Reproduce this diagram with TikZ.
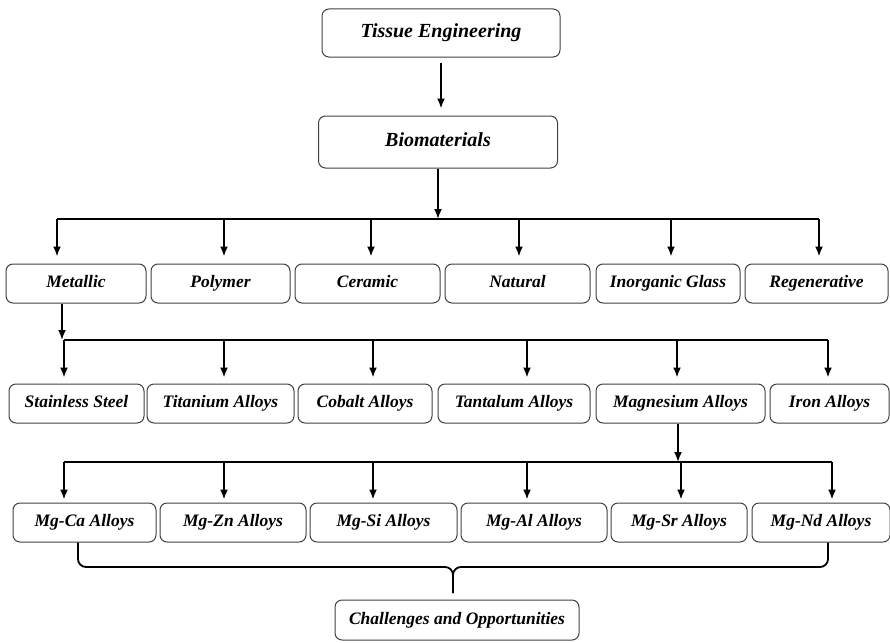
\documentclass[tikz,border=0pt]{standalone}
\usepackage{fontspec}
\setmainfont{Liberation Serif}
\usetikzlibrary{arrows.meta}

\tikzset{
    box/.style={draw=black!75, line width=1pt, rounded corners=7pt, minimum height=39pt, inner sep=0pt,
        text height=12pt, text depth=4pt, font=\fontsize{17.5}{20}\selectfont\bfseries\itshape},
    topbox/.style={box, text height=14pt, text depth=5pt, font=\fontsize{20}{24}\selectfont\bfseries\itshape},
    arr/.style={line width=1.8pt, -{Latex[length=10pt,width=8pt]}},
    bus/.style={line width=1.8pt},
}

\begin{document}
\begin{tikzpicture}[x=1pt, y=-1pt] %tree
            \useasboundingbox (0,0) rectangle (890,642);

            % top
            \node[topbox, minimum width=238pt, minimum height=48pt] (te) at (441,33) {Tissue Engineering};
            \node[topbox, minimum width=239pt, minimum height=52pt] (bio) at (438,142) {Biomaterials};

            % classes
            \node[box, minimum width=140pt] (met) at (76,283.5) {Metallic};
            \node[box, minimum width=139pt] (pol) at (220.5,283.5) {Polymer};
            \node[box, minimum width=145pt] (cer) at (367.5,283.5) {Ceramic};
            \node[box, minimum width=145pt] (nat) at (517.5,283.5) {Natural};
            \node[box, minimum width=144pt] (ing) at (668,283.5) {Inorganic Glass};
            \node[box, minimum width=143pt] (reg) at (816.5,283.5) {Regenerative};

            % metals
            \node[box, minimum width=135pt] (ss) at (76.5,403.5) {Stainless Steel};
            \node[box, minimum width=147pt] (ti) at (220.5,403.5) {Titanium Alloys};
            \node[box, minimum width=134pt] (co) at (365,403.5) {Cobalt Alloys};
            \node[box, minimum width=152pt] (ta) at (514,403.5) {Tantalum Alloys};
            \node[box, minimum width=169pt] (mg) at (680.5,403.5) {Magnesium Alloys};
            \node[box, minimum width=119pt] (fe) at (829.5,403.5) {Iron Alloys};

            % Mg alloys
            \node[box, minimum width=143pt] (mgca) at (84.5,522.5) {Mg-Ca Alloys};
            \node[box, minimum width=146pt] (mgzn) at (233,522.5) {Mg-Zn Alloys};
            \node[box, minimum width=147pt] (mgsi) at (383.5,522.5) {Mg-Si Alloys};
            \node[box, minimum width=146pt] (mgal) at (534,522.5) {Mg-Al Alloys};
            \node[box, minimum width=136pt] (mgsr) at (679,522.5) {Mg-Sr Alloys};
            \node[box, minimum width=138pt] (mgnd) at (821,522.5) {Mg-Nd Alloys};

            \node[box, minimum width=244pt, minimum height=40pt] (ch) at (457,620) {Challenges and Opportunities};

            % bus coordinates
            \coordinate (b1a) at (57,219);
            \coordinate (b1b) at (224,219);
            \coordinate (b1c) at (371,219);
            \coordinate (b1d) at (519,219);
            \coordinate (b1e) at (671,219);
            \coordinate (b1f) at (819,219);
            \coordinate (b2a) at (64,340);
            \coordinate (b2b) at (224,340);
            \coordinate (b2c) at (373,340);
            \coordinate (b2d) at (527,340);
            \coordinate (b2e) at (677,340);
            \coordinate (b2f) at (828,340);
            \coordinate (b3a) at (64,462);
            \coordinate (b3b) at (224,462);
            \coordinate (b3c) at (373,462);
            \coordinate (b3d) at (527,462);
            \coordinate (b3e) at (681,462);
            \coordinate (b3f) at (832,462);
            \coordinate (brL) at (78,567);
            \coordinate (brM) at (453,567);
            \coordinate (brR) at (828,567);
            \coordinate (brT) at (453,593);

            \draw[arr, shorten <=5pt, shorten >=7pt] (te.south) -- (te.south |- bio.north);
            \draw[arr] (bio.south) -- (bio.south |- b1a);
            \draw[bus] (b1a) -- (b1f);
            \draw[arr, shorten >=7pt] (b1a) -- (b1a |- met.north);
            \draw[arr, shorten >=7pt] (b1b) -- (b1b |- pol.north);
            \draw[arr, shorten >=7pt] (b1c) -- (b1c |- cer.north);
            \draw[arr, shorten >=7pt] (b1d) -- (b1d |- nat.north);
            \draw[arr, shorten >=7pt] (b1e) -- (b1e |- ing.north);
            \draw[arr, shorten >=7pt] (b1f) -- (b1f |- reg.north);

            \draw[arr] ([xshift=-14pt]met.south) -- ([xshift=-14pt]met.south |- b2a);
            \draw[bus] (b2a) -- (b2f);
            \draw[arr, shorten >=6pt] (b2a) -- (b2a |- ss.north);
            \draw[arr, shorten >=6pt] (b2b) -- (b2b |- ti.north);
            \draw[arr, shorten >=6pt] (b2c) -- (b2c |- co.north);
            \draw[arr, shorten >=6pt] (b2d) -- (b2d |- ta.north);
            \draw[arr, shorten >=6pt] (b2e) -- (b2e |- mg.north);
            \draw[arr, shorten >=6pt] (b2f) -- (b2f |- fe.north);

            \draw[arr] ([xshift=-2.5pt]mg.south) -- ([xshift=-2.5pt]mg.south |- b3a);
            \draw[bus] (b3a) -- (b3f);
            \draw[arr, shorten >=3pt] (b3a) -- (b3a |- mgca.north);
            \draw[arr, shorten >=3pt] (b3b) -- (b3b |- mgzn.north);
            \draw[arr, shorten >=3pt] (b3c) -- (b3c |- mgsi.north);
            \draw[arr, shorten >=3pt] (b3d) -- (b3d |- mgal.north);
            \draw[arr, shorten >=3pt] (b3e) -- (b3e |- mgsr.north);
            \draw[arr, shorten >=3pt] (b3f) -- (b3f |- mgnd.north);

            % brace
            \draw[bus, rounded corners=8pt] (brL |- mgca.south) -- (brL) -- (brM) -- (brT);
            \draw[bus, rounded corners=8pt] (brR |- mgnd.south) -- (brR) -- (brM) -- (brT);
        \end{tikzpicture}
\end{document}
